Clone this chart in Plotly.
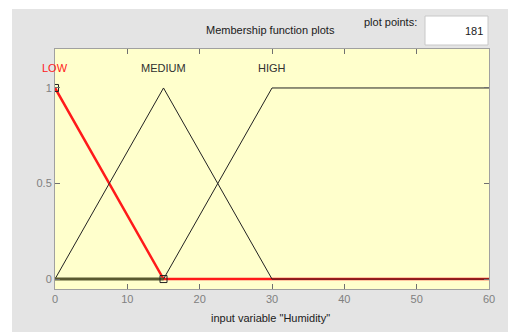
import plotly.graph_objects as go

x_range = [0, 60]
low_x = [0, 15, 60]
low_y = [1, 0, 0]
med_x = [0, 15, 30, 60]
med_y = [0, 1, 0, 0]
high_x = [0, 15, 30, 60]
high_y = [0, 0, 1, 1]
mf_names = ["LOW", "MEDIUM", "HIGH"]
mf_peaks = [0, 15, 30]
mf_colors = ["#ff2020", "#303030", "#303030"]
x_ticks = [0, 10, 20, 30, 40, 50, 60]
y_ticks = [0, 0.5, 1]
plot_points = "181"

fig = go.Figure()
fig.add_trace(go.Scatter(x=low_x, y=low_y, mode="lines", line=dict(color="#ff1a1a", width=2.5), hoverinfo="skip"))
fig.add_trace(go.Scatter(x=med_x, y=med_y, mode="lines", line=dict(color="#222222", width=1), hoverinfo="skip"))
fig.add_trace(go.Scatter(x=high_x, y=high_y, mode="lines", line=dict(color="#222222", width=1), hoverinfo="skip"))
fig.add_trace(go.Scatter(x=high_x[:2], y=high_y[:2], mode="lines", line=dict(color="#5a5a30", width=3), hoverinfo="skip"))
fig.add_trace(go.Scatter(x=low_x[:2], y=low_y[:2], mode="markers",
                         marker=dict(symbol="square-open", size=7, color="#222222", line=dict(width=1)), hoverinfo="skip"))

for name, px, c in zip(mf_names, mf_peaks, mf_colors):
    fig.add_annotation(x=px, y=1.105, text=name, showarrow=False, xref="x", yref="y",
                       xanchor="center", yanchor="middle",
                       font=dict(size=11, color=c, family="Liberation Sans"))

pl, pr, pt, pb = 55, 19, 49, 43
W, H = 508, 332
pw, ph = W - pl - pr, H - pt - pb
def px2x(p): return (p - pl) / pw
def px2y(p): return (H - pb - p) / ph

shapes = [
    dict(type="rect", xref="paper", yref="paper", x0=px2x(-5), x1=px2x(12), y0=px2y(340), y1=px2y(-5),
         fillcolor="white", line=dict(width=0), layer="above"),
    dict(type="rect", xref="paper", yref="paper", x0=px2x(-5), x1=px2x(515), y0=px2y(9), y1=px2y(-5),
         fillcolor="white", line=dict(width=0), layer="above"),
    dict(type="rect", xref="paper", yref="paper", x0=px2x(425), x1=px2x(488), y0=px2y(45), y1=px2y(16),
         fillcolor="white", line=dict(color="#c8c8c8", width=1), layer="above"),
]

def note(xp, yp, text, xanchor="center"):
    fig.add_annotation(xref="paper", yref="paper", x=px2x(xp), y=px2y(yp), text=text,
                       xanchor=xanchor, yanchor="middle", showarrow=False,
                       font=dict(size=11, color="#202020", family="Liberation Sans"))

note(270, 30, "Membership function plots")
note(390, 22, "plot points:")
note(485, 31, plot_points, xanchor="right")
note(270, 318, 'input variable "Humidity"')

fig.update_layout(
    width=W, height=H, margin=dict(l=pl, r=pr, t=pt, b=pb),
    paper_bgcolor="#e4e4e4", plot_bgcolor="#ffffcc", showlegend=False,
    shapes=shapes,
    xaxis=dict(range=x_range, tickvals=x_ticks, ticks="inside", ticklen=5, tickcolor="#707070",
               showgrid=False, zeroline=False, showline=True, linecolor="#a0a0a0", mirror="ticks",
               tickfont=dict(size=11, color="#808080", family="Liberation Sans")),
    yaxis=dict(range=[-0.052, 1.204], tickvals=y_ticks, ticktext=["0", "0.5", "1"], ticks="inside", ticklen=5,
               tickcolor="#707070", showgrid=False, zeroline=False, showline=True, linecolor="#a0a0a0",
               mirror="ticks", tickfont=dict(size=11, color="#808080", family="Liberation Sans")),
)
fig.write_html("out.html", config={"displayModeBar": False, "staticPlot": True},
               post_script="document.body.style.margin='0';document.body.style.overflow='hidden';")
